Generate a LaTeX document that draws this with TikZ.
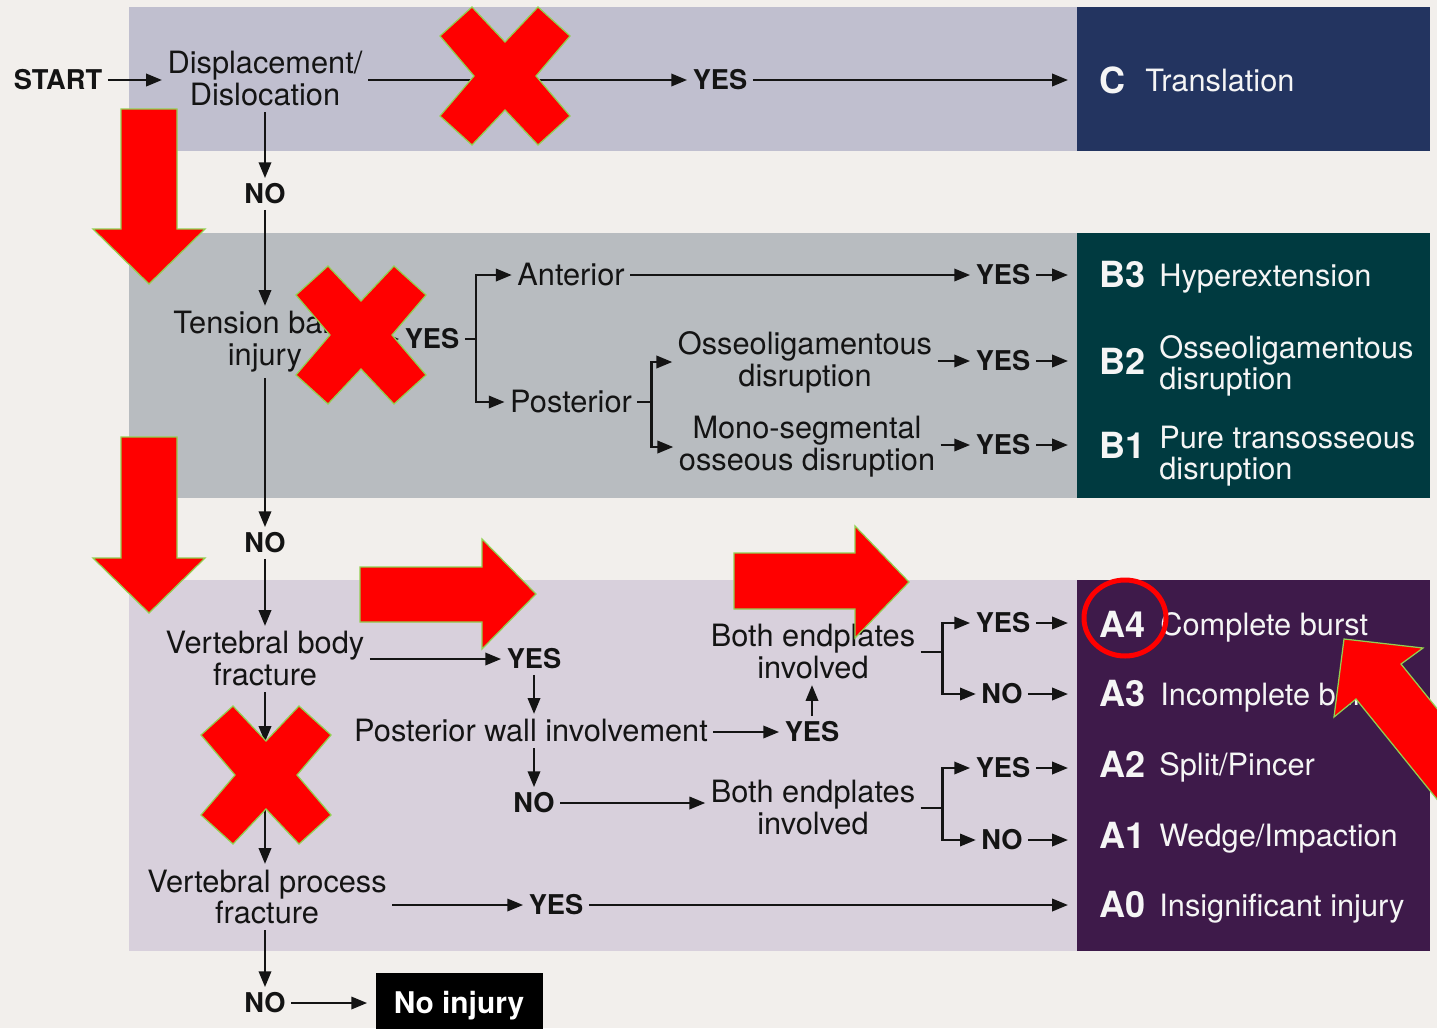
\documentclass[tikz,border=0pt]{standalone}
\usepackage{fontspec}
\setmainfont{TeX Gyre Heros}
\usetikzlibrary{arrows.meta}
\newdimen\pxu \pxu=0.02cm
\definecolor{bgc}{RGB}{242,239,236}
\definecolor{bandC}{RGB}{192,191,207}
\definecolor{bandB}{RGB}{184,188,192}
\definecolor{bandA}{RGB}{216,208,220}
\definecolor{boxCc}{RGB}{35,52,96}
\definecolor{boxBc}{RGB}{0,58,64}
\definecolor{boxAc}{RGB}{62,26,74}
\definecolor{ink}{RGB}{20,20,20}
\definecolor{outgreen}{RGB}{146,208,80}
\definecolor{boxtext}{RGB}{245,245,245}
\definecolor{hot}{RGB}{255,0,0}
\newcommand\drawRedCross[2]{\path[redshape,shift={(#1,#2)}] (-65,-40) -- (-33,-69) -- (0,-34) -- (33,-69) -- (65,-40) -- (31,0) -- (65,40) -- (33,69) -- (0,34) -- (-33,69) -- (-65,40) -- (-31,0) -- cycle;}
\begin{document}
\begin{tikzpicture}[x=0.02cm,y=-0.02cm,
 txt/.style={font=\fontsize{17.5}{18.2}\selectfont, align=center, text=ink, inner sep=3pt},
 lbl/.style={font=\bfseries\fontsize{15.5}{16}\selectfont, text=ink, inner sep=3pt},
 code/.style={font=\bfseries\fontsize{20.5}{21}\selectfont, text=boxtext, inner sep=0pt, anchor=west},
 desc/.style={font=\fontsize{17.5}{17.6}\selectfont, align=left, text=boxtext, inner sep=0pt, anchor=west},
 descone/.style={desc, text height=12.6pt, text depth=0pt},
 rbox/.style={anchor=north west, minimum width=353\pxu, inner sep=0pt, outer sep=0pt},
 arr/.style={line width=1.4pt, draw=ink, -{Triangle[length=9pt,width=7pt]}},
 ln/.style={line width=1.4pt, draw=ink},
 tobox/.style={arr, shorten >=9\pxu},
 noinjbox/.style={fill=black, text=white, font=\bfseries\fontsize{17}{18}\selectfont, text height=12.2pt, text depth=0pt, minimum width=167\pxu, minimum height=60\pxu, inner sep=0pt},
 redshape/.style={fill=hot, draw=outgreen, line width=0.7pt, line join=miter}
]
\useasboundingbox (0,0) rectangle (1437,1028);
\clip (0,0) rectangle (1437,1028);
\fill[bgc] (0,0) rectangle (1437,1028);
% bands
\fill[bandC] (129,7) rectangle (1077,151);
\fill[bandB] (129,233) rectangle (1077,498);
\fill[bandA] (129,580) rectangle (1077,951);
\node[rbox, fill=boxCc, minimum height=144\pxu] (boxC) at (1077,7) {};
\node[rbox, fill=boxBc, minimum height=265\pxu] (boxB) at (1077,233) {};
\node[rbox, fill=boxAc, minimum height=371\pxu] (boxA) at (1077,580) {};

% ---- top band
\node[lbl] (start) at (58,80) {START};
\node[txt] (disp) at (265,79) {Displacement/\\Dislocation};
\node[lbl] (yesC) at (720,80) {YES};
\node[code] (cC) at (1099,80) {C};
\node[descone] (dC) at (1145,80) {Translation};
\node[lbl] (no1) at (265,194) {NO};

% ---- middle band
\node[txt] (tens) at (265,342) {Tension band\\injury};
\node[lbl] (yesT) at (432,339) {YES};
\node[txt] (ant) at (571,275) {Anterior};
\node[txt] (post) at (571,402) {Posterior};
\node[txt] (osse) at (805,362) {Osseoligamentous\\disruption};
\node[txt] (mono) at (807,447) {Mono-segmental\\osseous disruption};
\node[lbl] (yB3) at (1003,275) {YES};
\node[lbl] (yB2) at (1003,361) {YES};
\node[lbl] (yB1) at (1003,445) {YES};
\node[code] (cB3) at (1099,275) {B3};
\node[descone] (dB3) at (1159,275) {Hyperextension};
\node[code] (cB2) at (1099,361) {B2};
\node[desc] (dB2) at (1159,366) {Osseoligamentous\\disruption};
\node[code] (cB1) at (1099,445) {B1};
\node[desc] (dB1) at (1159,456) {Pure transosseous\\disruption};
\node[lbl] (no2) at (265,543) {NO};

% ---- bottom band
\node[txt] (vbf) at (265,659) {Vertebral body\\fracture};
\node[lbl] (yesP) at (534,659) {YES};
\node[txt] (pwi) at (531,731) {Posterior wall involvement};
\node[lbl] (yesE) at (812,732) {YES};
\node[txt] (be1) at (813,652) {Both endplates\\involved};
\node[lbl] (yA4) at (1003,623) {YES};
\node[lbl] (nA3) at (1002,694) {NO};
\node[lbl] (noP) at (534,803) {NO};
\node[txt] (be2) at (813,808) {Both endplates\\involved};
\node[lbl] (yA2) at (1003,768) {YES};
\node[lbl] (nA1) at (1002,840) {NO};
\node[txt] (vpf) at (267,897) {Vertebral process\\fracture};
\node[lbl] (yA0) at (556,905) {YES};
\node[lbl] (no3) at (265,1003) {NO};
\node[noinjbox] (noinj) at (459,1003) {No injury};
\node[code] (cA4) at (1099,624) {A4};
\node[descone] (dA4) at (1160,624) {Complete burst};
\node[code] (cA3) at (1099,694) {A3};
\node[descone] (dA3) at (1160,694) {Incomplete burst};
\node[code] (cA2) at (1099,764) {A2};
\node[descone] (dA2) at (1159,764) {Split/Pincer};
\node[code] (cA1) at (1099,835) {A1};
\node[descone] (dA1) at (1159,835) {Wedge/Impaction};
\node[code] (cA0) at (1099,905) {A0};
\node[descone] (dA0) at (1159,905) {Insignificant injury};

% ---- connectors top
\draw[arr] (start.east) -- (start.east -| disp.west);
\draw[arr] (yesC.west -| disp.east) -- (yesC.west);
\draw[tobox] (yesC.east) -- (yesC.east -| boxC.west);
\draw[arr] (disp.south) -- (no1.north);
\draw[arr] (no1.south) -- (tens.north);

% ---- connectors middle
\draw[arr] (yesT.west -| tens.east) -- (yesT.west);
\draw[ln] (yesT.east) -- ++(11,0) coordinate (brT);
\draw[arr] (brT) |- (ant.west);
\draw[arr] (brT) |- (post.west);
\draw[arr] (ant.east) -- (yB3.west);
\draw[tobox] (yB3.east) -- (yB3.east -| boxB.west);
\draw[ln] (post.east) -- ++(14,0) coordinate (brP);
\draw[arr] (brP) |- (osse.west);
\draw[arr] (brP) |- (mono.west);
\draw[arr] (yB2.west -| osse.east) -- (yB2.west);
\draw[tobox] (yB2.east) -- (yB2.east -| boxB.west);
\draw[arr] (yB1.west -| mono.east) -- (yB1.west);
\draw[tobox] (yB1.east) -- (yB1.east -| boxB.west);
\draw[arr] (tens.south) -- (no2.north);
\draw[arr] (no2.south) -- (vbf.north);

% ---- connectors bottom
\draw[arr] (yesP.west -| vbf.east) -- (yesP.west);
\draw[arr] (yesP.south) -- (yesP.south |- pwi.north);
\draw[arr] (yesE.west -| pwi.east) -- (yesE.west);
\draw[arr] (yesE.north) -- (yesE.north |- be1.south);
\draw[ln] (be1.east) -- ++(22,0) coordinate (brE1);
\draw[arr] (brE1) |- (yA4.west);
\draw[arr] (brE1) |- (nA3.west);
\draw[tobox] (yA4.east) -- (yA4.east -| boxA.west);
\draw[tobox] (nA3.east) -- (nA3.east -| boxA.west);
\draw[arr] (noP.north |- pwi.south) -- (noP.north);
\draw[arr] (noP.east) -- (noP.east -| be2.west);
\draw[ln] (be2.east) -- ++(22,0) coordinate (brE2);
\draw[arr] (brE2) |- (yA2.west);
\draw[arr] (brE2) |- (nA1.west);
\draw[tobox] (yA2.east) -- (yA2.east -| boxA.west);
\draw[tobox] (nA1.east) -- (nA1.east -| boxA.west);
\coordinate (c1) at (265,742);
\coordinate (c2) at (265,808);
\draw[arr] (vbf.south) -- (c1);
\draw[arr] (c2) -- (c2 |- vpf.north);
\draw[arr] (yA0.west -| vpf.east) -- (yA0.west);
\draw[tobox] (yA0.east) -- (yA0.east -| boxA.west);
\draw[arr] (no3.north |- vpf.south) -- (no3.north);
\draw[arr, shorten >=8\pxu] (no3.east) -- (noinj.west);

% ---- red overlays
\path[redshape] (121,109) -- (177,109) -- (177,229) -- (205,229) -- (149,284) -- (93,229) -- (121,229) -- cycle;
\path[redshape] (121,437) -- (177,437) -- (177,558) -- (205,558) -- (149,613) -- (93,558) -- (121,558) -- cycle;
\path[redshape] (360,567) -- (482,567) -- (482,539) -- (536,594) -- (482,649) -- (482,622) -- (360,622) -- cycle;
\path[redshape] (734,553) -- (855,553) -- (855,526) -- (909,582) -- (855,638) -- (855,609) -- (734,609) -- cycle;
\path[redshape] (1344,639) -- (1423,648) -- (1401,664) -- (1527,820) -- (1482,855) -- (1356,699) -- (1334,717) -- cycle;
\drawRedCross{505}{76}
\drawRedCross{361}{335}
\drawRedCross{266}{775}
\draw[hot, line width=5\pxu] (1125,618) ellipse [x radius=41\pxu, y radius=38\pxu];
\end{tikzpicture}
\end{document}
